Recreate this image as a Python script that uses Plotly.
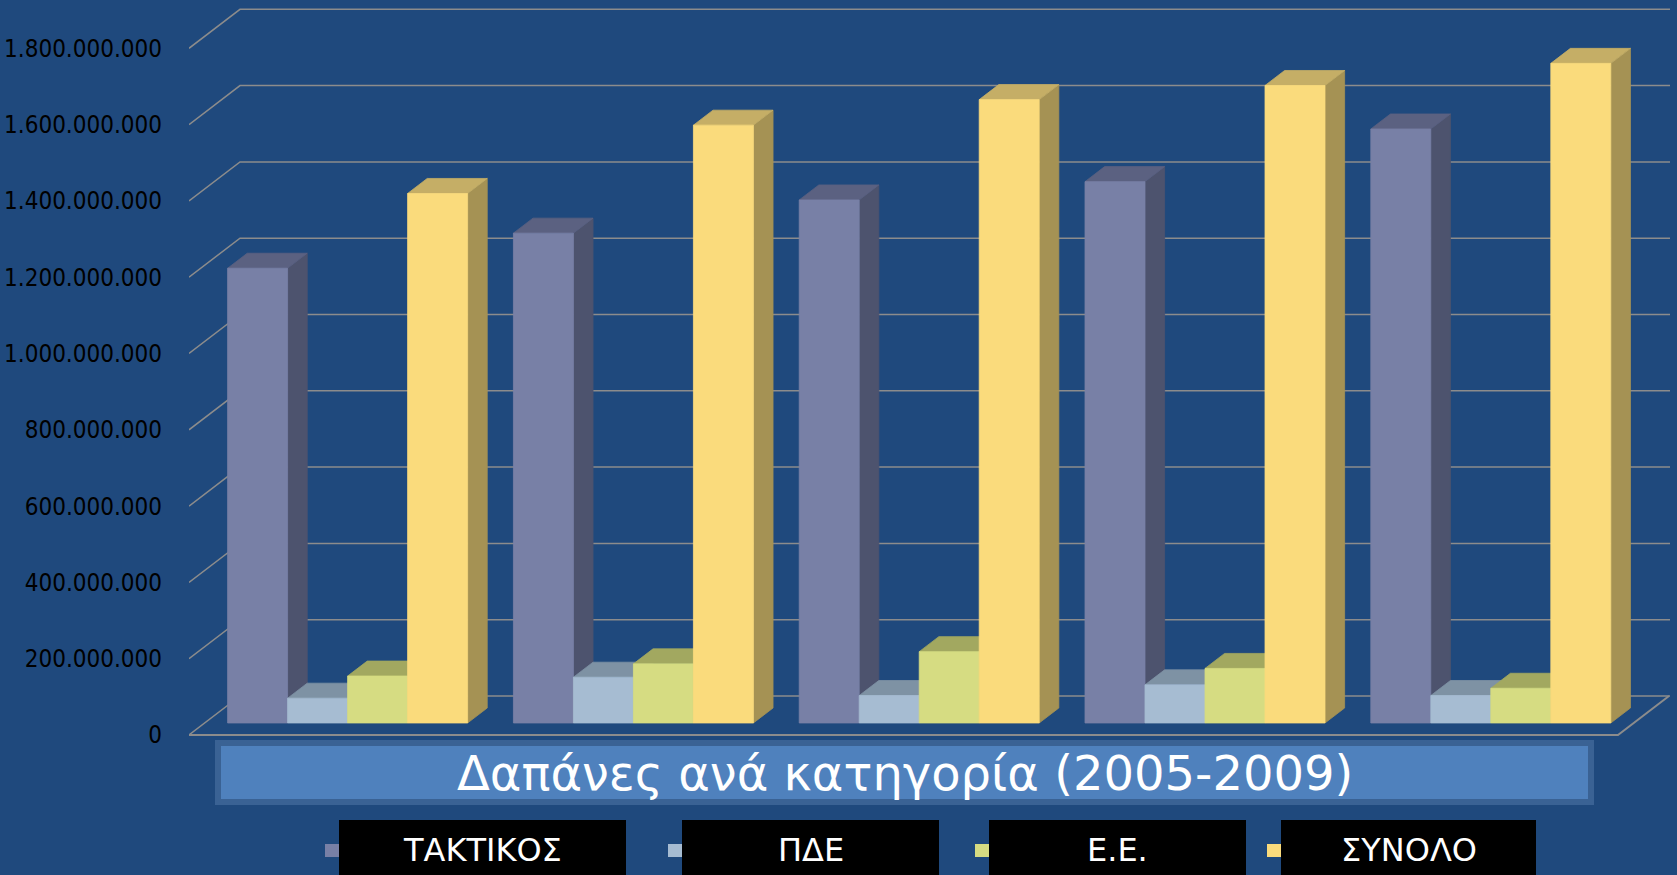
import plotly.graph_objects as go

# ---------------- data ----------------
years = ["2005", "2006", "2007", "2008", "2009"]
series_names = ["ΤΑΚΤΙΚΟΣ", "ΠΔΕ", "Ε.Ε.", "ΣΥΝΟΛΟ"]
taktikos = [1192e6, 1284e6, 1371e6, 1419e6, 1557e6]
pde = [65e6, 120e6, 72e6, 100e6, 72e6]
ee = [123e6, 155e6, 187e6, 143e6, 91e6]
synolo = [1388e6, 1567e6, 1634e6, 1671e6, 1729e6]
tick_values = [0, 200e6, 400e6, 600e6, 800e6, 1000e6, 1200e6, 1400e6, 1600e6, 1800e6]
chart_title = "Δαπάνες ανά κατηγορία (2005-2009)"

series_values = [taktikos, pde, ee, synolo]

# ---------------- styling ----------------
BG = "#1F497D"
GRID = "#8C8C8C"
front_cols = ["#7880A6", "#A6BCD2", "#D6DC82", "#FADB7C"]
top_cols = ["#5B6181", "#7E92A4", "#A2A860", "#C5AE66"]
side_cols = ["#4D536E", "#6F8193", "#8F9453", "#A59254"]

W_PX, H_PX = 1677, 875
ML, MR, MT, MB = 189, 7, 0, 135
PLOT_W = W_PX - ML - MR
PLOT_H = H_PX - MT - MB
CAT_PX = 285.8                 # pixels per category on the front plane
PX_PER_UNIT_Y = 76.3 / 200e6   # pixels per value unit
ZERO_PY = 735                  # pixel row of value 0 on the front plane

x_range = [0, PLOT_W / CAT_PX]
y_range = [-(PLOT_H - ZERO_PY) / PX_PER_UNIT_Y, ZERO_PY / PX_PER_UNIT_Y]

# depth of the whole floor (oblique projection)
DEPTH_X = 51 / CAT_PX
DEPTH_Y = 39 / PX_PER_UNIT_Y
# bars: front face depth fraction and bar depth
BAR_FRONT = 0.308
BAR_DEPTH = 0.385
BAR_W = 60 / CAT_PX
GAP = 1 - 4 * BAR_W

n_cat = len(years)

fig = go.Figure()


def poly(xs, ys, color, name):
    fig.add_trace(go.Scatter(
        x=xs + [xs[0]], y=ys + [ys[0]], mode="lines", fill="toself",
        fillcolor=color, line=dict(color=color, width=0.8),
        hoverinfo="skip", showlegend=False, name=name))


def seg(xs, ys, width=1.5):
    fig.add_trace(go.Scatter(x=xs, y=ys, mode="lines",
                             line=dict(color=GRID, width=width),
                             hoverinfo="skip", showlegend=False))


# back wall gridlines + left wall diagonals
for tv in tick_values:
    seg([0, DEPTH_X, x_range[1]], [tv, tv + DEPTH_Y, tv + DEPTH_Y])
# floor
seg([0, n_cat, n_cat + DEPTH_X], [0, 0, DEPTH_Y], width=2)

# bars
fx = BAR_FRONT * DEPTH_X
fy = BAR_FRONT * DEPTH_Y
bdx = BAR_DEPTH * DEPTH_X
bdy = BAR_DEPTH * DEPTH_Y
for c in range(n_cat):
    for s, vals in enumerate(series_values):
        v = vals[c]
        x0 = c + GAP / 2 + s * BAR_W + fx
        x1 = x0 + BAR_W
        y0 = fy
        y1 = fy + v
        # side face
        poly([x1, x1 + bdx, x1 + bdx, x1], [y0, y0 + bdy, y1 + bdy, y1],
             side_cols[s], series_names[s])
        # top face
        poly([x0, x1, x1 + bdx, x0 + bdx], [y1, y1, y1 + bdy, y1 + bdy],
             top_cols[s], series_names[s])
        # front face
        poly([x0, x1, x1, x0], [y0, y0, y1, y1], front_cols[s], series_names[s])


def px_x(p):
    return (p - ML) / PLOT_W


def px_y(p):
    return (H_PX - MB - p) / PLOT_H


shapes = []
annotations = []
# title box
shapes.append(dict(type="rect", xref="paper", yref="paper",
                   x0=px_x(218), x1=px_x(1591), y0=px_y(802), y1=px_y(743),
                   fillcolor="#4F81BD", line=dict(color="#3A6294", width=6),
                   layer="above"))
annotations.append(dict(text=chart_title, xref="paper", yref="paper",
                        x=px_x(905), y=px_y(773), xanchor="center", yanchor="middle",
                        showarrow=False,
                        font=dict(family="DejaVu Sans", size=48, color="white")))
# legend
leg_boxes = [(339, 626), (682, 939), (989, 1246), (1281, 1536)]
for s, (bx0, bx1) in enumerate(leg_boxes):
    shapes.append(dict(type="rect", xref="paper", yref="paper",
                       x0=px_x(bx0 - 14), x1=px_x(bx0), y0=px_y(857), y1=px_y(844),
                       fillcolor=front_cols[s], line=dict(width=0), layer="above"))
    shapes.append(dict(type="rect", xref="paper", yref="paper",
                       x0=px_x(bx0), x1=px_x(bx1), y0=px_y(880), y1=px_y(820),
                       fillcolor="black", line=dict(width=0), layer="above"))
    annotations.append(dict(text=series_names[s], xref="paper", yref="paper",
                            x=px_x((bx0 + bx1) / 2), y=px_y(850),
                            xanchor="center", yanchor="middle", showarrow=False,
                            font=dict(family="DejaVu Sans", size=32, color="white")))

fig.update_layout(
    width=W_PX, height=H_PX,
    margin=dict(l=ML, r=MR, t=MT, b=MB, pad=0),
    paper_bgcolor=BG, plot_bgcolor=BG,
    separators=",.",
    showlegend=False,
    shapes=shapes, annotations=annotations,
    xaxis=dict(range=x_range, showgrid=False, zeroline=False, showticklabels=False,
               showline=False, ticks="", fixedrange=True),
    yaxis=dict(range=y_range, showgrid=False, zeroline=False, showline=False,
               tickvals=tick_values, tickformat=",d", ticks="",
               ticklabelstandoff=26,
               tickfont=dict(family="DejaVu Sans Condensed, DejaVu Sans", size=24,
                             color="black"),
               fixedrange=True),
)

fig.write_html(
    "out.html",
    config={"displayModeBar": False},
    post_script="document.body.style.margin='0';document.body.style.overflow='hidden';",
)
